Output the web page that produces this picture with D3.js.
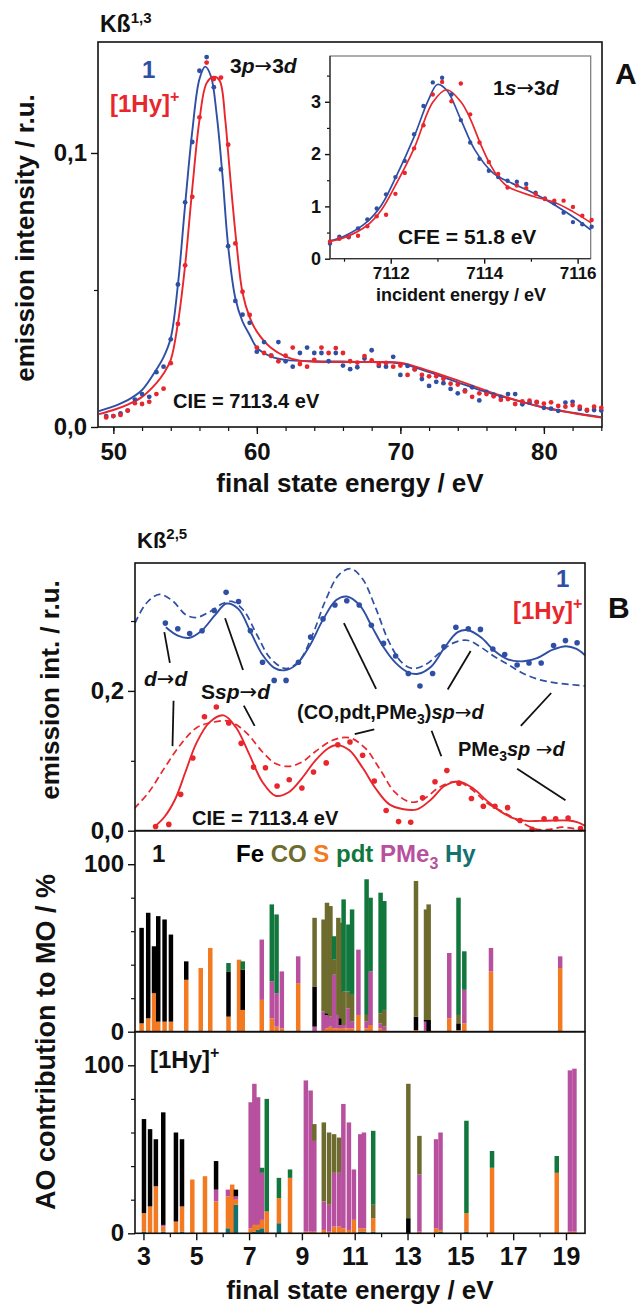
<!DOCTYPE html>
<html>
<head>
<meta charset="utf-8">
<script src="https://cdn.jsdelivr.net/npm/d3@7"></script>
<style>
  body { margin: 0; background: #fff; }
  svg text { font-family: "Liberation Sans", Arial, Helvetica, sans-serif; font-weight: bold; fill: #111; }
</style>
</head>
<body>
<svg id="fig" width="638" height="1304"></svg>
<script>
// ===================== Data =====================
// Panel A: Kbeta1,3 HERFD spectra (final state energy / eV vs. intensity)
const aEnergy = [49.5,50,50.5,51,51.5,52,52.5,53,53.5,54,54.5,55,55.5,56,56.5,57,57.5,58,58.5,59,59.5,60,60.5,61,61.5,62,62.5,63,63.5,64,64.5,65,65.5,66,66.5,67,67.5,68,68.5,69,69.5,70,70.5,71,71.5,72,72.5,73,73.5,74,74.5,75,75.5,76,76.5,77,77.5,78,78.5,79,79.5,80,80.5,81,81.5,82,82.5,83,83.5,84];
const aDots1 = [0.004,0.004,0.005,0.006,0.010,0.012,0.011,0.020,0.022,0.032,0.052,0.082,0.104,0.130,0.135,0.124,0.094,0.066,0.046,0.041,0.038,0.0275,0.031,0.026,0.031,0.024,0.022,0.027,0.029,0.027,0.027,0.024,0.027,0.0224,0.0211,0.0218,0.025,0.028,0.0223,0.022,0.0256,0.019,0.0223,0.0211,0.0175,0.015,0.0165,0.016,0.0139,0.0123,0.0134,0.0145,0.0097,0.0128,0.0118,0.011,0.012,0.012,0.0083,0.0089,0.0089,0.007,0.0067,0.0059,0.0089,0.0092,0.0066,0.006,0.0062,0.006];
const aDotsHy = [0.0035,0.004,0.0044,0.006,0.0087,0.0084,0.0092,0.012,0.014,0.0233,0.0376,0.059,0.084,0.113,0.133,0.127,0.1275,0.103,0.067,0.0494,0.0409,0.029,0.027,0.026,0.024,0.026,0.029,0.023,0.022,0.0245,0.029,0.027,0.0288,0.027,0.024,0.0235,0.0259,0.0243,0.023,0.0234,0.022,0.0224,0.019,0.021,0.019,0.0185,0.0185,0.0176,0.0158,0.0155,0.013,0.011,0.0123,0.012,0.0112,0.0099,0.0102,0.0084,0.0093,0.0096,0.0092,0.0085,0.009,0.0077,0.0074,0.008,0.0074,0.0062,0.0074,0.007];
const aFit1 = [[49,0.0058],[50,0.0075],[51,0.0098],[52,0.0135],[53,0.021],[53.5,0.0255],[54,0.0325],[54.5,0.052],[55,0.081],[55.5,0.108],[56,0.127],[56.4,0.1315],[56.8,0.128],[57.2,0.114],[57.6,0.092],[58,0.066],[58.5,0.047],[59,0.0385],[59.5,0.0336],[60,0.029],[61,0.0257],[62,0.0245],[64,0.024],[66,0.0239],[68,0.0237],[70,0.0232],[72,0.02],[74,0.0163],[76,0.0127],[78,0.0098],[80,0.0071],[82,0.0052],[84,0.0036]];
const aFitHy = [[49,0.0047],[50,0.0062],[51,0.0082],[52,0.011],[53,0.016],[53.5,0.0195],[54,0.0245],[54.5,0.038],[55,0.059],[55.5,0.087],[56,0.112],[56.5,0.1255],[57,0.1278],[57.4,0.1265],[57.8,0.112],[58,0.1],[58.3,0.082],[58.6,0.066],[59,0.049],[59.5,0.04],[60,0.0348],[61,0.0288],[62,0.0257],[63,0.0242],[64,0.0238],[66,0.0237],[68,0.0237],[70,0.0235],[72,0.0205],[74,0.017],[76,0.0132],[78,0.0099],[80,0.0071],[82,0.0051],[84,0.0034]];

// Inset: 1s->3d pre-edge (incident energy / eV)
const inEnergy = [7110.7,7110.9,7111.1,7111.3,7111.5,7111.7,7111.9,7112.1,7112.3,7112.5,7112.7,7112.9,7113.1,7113.3,7113.5,7113.7,7113.9,7114.1,7114.3,7114.5,7114.7,7114.9,7115.1,7115.3,7115.5,7115.7,7115.9,7116.1,7116.3];
const inDots1 = [0.29,0.42,0.41,0.58,0.75,0.96,1.23,1.56,1.87,2.38,2.92,3.37,3.46,3.14,2.65,2.22,1.91,1.68,1.56,1.49,1.47,1.43,1.26,1.15,1.06,0.88,0.70,0.66,0.61];
const inDotsHy = [0.33,0.38,0.42,0.44,0.62,0.81,0.84,1.24,1.64,2.11,2.55,3.14,3.38,3.01,3.35,2.76,2.22,1.85,1.62,1.36,1.40,1.35,1.24,1.14,1.11,1.11,0.99,0.82,0.74];
const inFit1 = [[7110.7,0.34],[7111,0.43],[7111.5,0.71],[7111.8,1.02],[7112.1,1.54],[7112.5,2.33],[7112.8,3.02],[7113,3.33],[7113.2,3.22],[7113.5,2.66],[7113.8,2.08],[7114.2,1.63],[7114.6,1.44],[7115,1.28],[7115.5,1.03],[7116,0.74],[7116.28,0.55]];
const inFitHy = [[7110.7,0.33],[7111,0.40],[7111.5,0.64],[7111.8,0.93],[7112.1,1.40],[7112.5,2.11],[7112.9,2.99],[7113.2,3.23],[7113.5,3.0],[7113.7,2.68],[7113.9,2.24],[7114.1,1.85],[7114.3,1.56],[7114.5,1.38],[7115.06,1.19],[7115.5,1.08],[7115.9,0.90],[7116.28,0.69]];

// Panel B: Kbeta2,5 valence-to-core spectra
const bEnergy1 = [3.83,4.30,4.75,5.22,5.68,6.13,6.60,7.05,7.51,7.95,8.40,8.87,9.33,9.80,10.25,10.70,11.17,11.63,12.09,12.55,13.03,13.47,13.95,14.38,14.83,15.30,15.76,16.23,16.68,17.15,17.60,18.06,18.53,18.98,19.42];
const bDots1 = [0.297,0.289,0.282,0.286,0.315,0.341,0.328,0.286,0.241,0.215,0.215,0.241,0.277,0.303,0.323,0.329,0.323,0.294,0.268,0.250,0.225,0.207,0.225,0.263,0.291,0.289,0.288,0.260,0.252,0.237,0.240,0.240,0.265,0.272,0.269];
const bEnergyHy = [3.46,3.96,4.41,4.87,5.31,5.76,6.23,6.70,7.17,7.62,8.06,8.52,9.00,9.44,9.92,10.36,10.82,11.30,11.74,12.19,12.66,13.12,13.57,14.04,14.49,14.95,15.42,15.87,16.31,16.79,17.26,17.72,18.17,18.61,19.08,19.55];
const bDotsHy = [0.006,0.009,0.052,0.104,0.163,0.177,0.154,0.125,0.091,0.090,0.064,0.073,0.061,0.084,0.097,0.123,0.127,0.108,0.071,0.029,0.013,0.012,0.047,0.070,0.086,0.068,0.046,0.035,0.035,0.033,0.0145,0.002,0.017,0.017,0.018,0.003];
const bFit1 = [[3.85,0.291],[4.3,0.279],[4.75,0.276],[5.2,0.286],[5.7,0.308],[6.15,0.325],[6.6,0.317],[7.05,0.285],[7.5,0.252],[7.95,0.233],[8.35,0.2295],[8.8,0.238],[9.3,0.265],[9.8,0.302],[10.3,0.33],[10.7,0.335],[11.2,0.322],[11.65,0.292],[12.1,0.262],[12.55,0.24],[13,0.227],[13.4,0.2245],[13.9,0.235],[14.4,0.262],[14.9,0.284],[15.3,0.2868],[15.8,0.276],[16.3,0.257],[16.8,0.245],[17.4,0.2424],[17.9,0.247],[18.5,0.259],[19,0.264],[19.4,0.26],[19.72,0.251]];
const bCalc1 = [[2.68,0.297],[3.1,0.325],[3.6,0.338],[4.1,0.329],[4.6,0.309],[5,0.305],[5.5,0.313],[6,0.325],[6.35,0.328],[6.8,0.315],[7.3,0.28],[7.8,0.247],[8.4,0.232],[8.9,0.243],[9.4,0.28],[9.9,0.33],[10.4,0.366],[10.85,0.375],[11.3,0.36],[11.8,0.318],[12.3,0.27],[12.8,0.24],[13.2,0.232],[13.7,0.238],[14.2,0.254],[14.7,0.268],[15.25,0.2725],[15.8,0.262],[16.3,0.249],[16.8,0.238],[17.4,0.2245],[18,0.216],[18.6,0.2115],[19.2,0.209],[19.72,0.207]];
const bFitHy = [[3.4,0.005],[3.8,0.02],[4.2,0.045],[4.6,0.085],[5,0.125],[5.5,0.155],[6.03,0.165],[6.5,0.148],[7,0.11],[7.5,0.07],[8,0.05],[8.5,0.055],[9,0.075],[9.5,0.1],[10,0.118],[10.36,0.1225],[10.8,0.115],[11.3,0.09],[11.8,0.06],[12.3,0.038],[12.8,0.031],[13.36,0.0305],[13.9,0.045],[14.4,0.064],[14.95,0.0702],[15.5,0.06],[16,0.043],[16.5,0.028],[17,0.018],[17.5,0.014],[18,0.014],[18.5,0.0145],[19.1,0.0145],[19.45,0.012],[19.72,0.007]];
const bCalcHy = [[2.65,0.0315],[3.2,0.055],[3.8,0.09],[4.4,0.123],[5,0.147],[5.6,0.155],[6.26,0.1564],[6.9,0.14],[7.5,0.113],[8,0.096],[8.5,0.092],[9,0.098],[9.5,0.113],[10.2,0.13],[10.8,0.133],[11.4,0.118],[12,0.085],[12.5,0.056],[13.1,0.041],[13.6,0.045],[14.2,0.062],[14.85,0.0702],[15.4,0.06],[16,0.04],[16.75,0.024],[17.4,0.01],[17.9,0.002],[18.4,0.002],[18.85,0.005],[19.3,0.003],[19.72,0]];

// Assignment leader lines, [energy, intensity] end points
const leaders = [
  [[3.79,0.284],[4.00,0.240]], [[4.14,0.186],[4.10,0.121]],
  [[6.09,0.304],[6.77,0.230]], [[6.80,0.179],[7.21,0.150]],
  [[10.59,0.297],[11.81,0.203]], [[11.00,0.138],[11.74,0.145]],
  [[15.39,0.257],[14.52,0.202]], [[13.91,0.143],[14.28,0.1065]],
  [[18.44,0.197],[17.29,0.150]], [[17.15,0.0886],[18.98,0.0435]]
];

// MO compositions: [energy, Hy, S, PMe3, Fe, CO, pdt] in %
const aoKeys = ["Hy","S","PMe3","Fe","CO","pdt"];
const mo1 = [
  [2.93,0,5,0,57,0,0],[3.18,0,8,0,63,0,0],[3.40,0,23,0,28,0,0],[3.56,0,6,0,63,0,0],
  [3.80,0,6,0,61,0,0],[4.04,0,6,0,52,0,0],[4.62,0,31,0,11,0,0],[5.17,0,38,0,0,0,0],
  [5.53,0,50,0,0,0,0],[6.22,0,9,0,27,0,5],[6.62,0,43,0,0,0,0],[6.76,0,13,0,24,0,5],
  [7.48,0,19,36,0,0,0],[7.86,0,8,22,0,0,46],[8.04,0,3,20,0,0,47],[8.24,0,2,34,0,0,0],
  [8.86,0,29,16,0,0,0],[9.48,0,0,3,24,41,0],[9.82,0,1,11,0,55,0],[9.95,0,2,8,1,66,0],
  [10.08,0,3,6,0,66,0],[10.22,0,2,32,0,9,14],[10.38,0,2,8,0,58,0],[10.48,0,2,2,4,57,0],
  [10.58,0,2,2,0,20,55],[10.76,0,2,12,0,10,40],[10.90,0,2,4,0,16,51],[11.14,0,10,39,0,0,0],
  [11.45,0,2,4,0,4,81],[11.60,0,4,32,0,0,44],[11.98,0,2,3,0,6,72],[12.12,0,1,2,0,10,65],
  [13.32,0,1,0,8,81,0],[13.70,0,1,5,1,66,0],[13.80,0,0,0,7,69,0],[14.58,0,8,39,0,0,0],
  [14.93,0,1,0,4,5,70],[15.15,0,5,20,0,0,23],[16.16,0,36,14,0,0,0],[18.78,0,38,7,0,0,0]
];
const mo2 = [
  [3.02,1,11,0,56,0,0],[3.25,0,16,0,46,0,0],[3.47,0,28,0,28,0,0],[3.75,1,3,1,67,0,0],
  [4.23,0,7,0,53,0,0],[4.46,1,15,0,40,0,0],[4.85,0,32,0,0,0,0],[5.33,0,34,0,0,0,0],
  [5.75,0,19,7,17,0,0],[6.20,3,19,4,0,0,0],[6.36,0,29,0,0,0,0],[6.50,17,3,2,4,0,0],
  [7.06,0,3,75,0,0,0],[7.20,1,4,84,0,0,0],[7.34,2,3,76,0,0,0],[7.49,3,5,28,0,0,3],
  [7.67,0,13,0,0,0,67],[8.13,6,15,0,0,0,12],[8.55,0,33,0,0,0,5],[9.15,0,1,90,0,0,0],
  [9.33,0,1,84,0,0,0],[9.47,0,1,54,0,10,0],[9.83,0,2,17,0,47,0],[10.03,0,1,16,0,43,0],
  [10.22,0,4,32,0,23,0],[10.41,0,4,32,0,21,0],[10.57,0,3,74,0,0,0],[10.78,0,2,64,0,0,0],
  [10.97,0,8,30,0,0,0],[11.21,1,2,56,0,0,0],[11.35,1,2,57,0,0,0],[11.70,1,8,0,0,8,44],
  [13.03,0,0,0,9,80,0],[13.45,0,1,34,0,23,0],[14.08,0,3,53,0,0,0],[14.25,1,1,58,0,0,0],
  [15.23,1,11,0,0,0,55],[16.20,0,39,0,0,0,10],[18.65,0,36,0,0,0,10],[19.15,0,1,96,0,0,0],
  [19.32,0,1,97,0,0,0]
];

const aTicksX = [50,60,70,80];
const aTicksY = [0, 0.1];
const inTicksX = [7112,7114,7116];
const inTicksY = [0,1,2,3];
const bTicksX = [3,5,7,9,11,13,15,17,19];
const bTicksY = [0, 0.2];
const moTicksY = [0, 100];

// ===================== Styles =====================
const FONT = '"Liberation Sans", Arial, Helvetica, sans-serif';
const ARROW_FONT = '"DejaVu Sans", "Liberation Sans", sans-serif';
const BLUE = "#2f4fa5", RED = "#e8262c";
const aoColor = { Fe: "#000000", CO: "#6d6b2e", S: "#f47a22", pdt: "#12773d", PMe3: "#b7509e", Hy: "#127270" };

const svg = d3.select("#fig");
const commaFmt = f => d => d3.format(f)(d).replace(".", ",");

function styleAxis(g, size) {
  g.attr("font-family", FONT).attr("font-size", size);
  g.select(".domain").remove();
  g.selectAll(".tick line").attr("stroke", "#111").attr("stroke-width", 1.4);
  g.selectAll(".tick text").attr("font-weight", "bold").attr("fill", "#111");
}
function minor(g) {
  g.select(".domain").remove();
  g.selectAll(".tick line").attr("stroke", "#111").attr("stroke-width", 1.2);
  g.selectAll(".tick text").remove();
}
const smooth = (x, y) => d3.line().x(d => x(d[0])).y(d => y(d[1])).curve(d3.curveCatmullRom.alpha(0.5));

// text helper: parts are {t, i(talic), c(olour), dy, fs, a(rrow font)}
function label(x, y, parts, size, anchor) {
  const t = svg.append("text").attr("x", x).attr("y", y).attr("font-size", size).attr("text-anchor", anchor || "start");
  parts.forEach(p => {
    const s = t.append("tspan").text(p.t);
    if (p.i) s.attr("font-style", "italic");
    if (p.c) s.attr("fill", p.c);
    if (p.dy) s.attr("dy", p.dy);
    if (p.fs) s.attr("font-size", p.fs);
    if (p.a) s.attr("font-family", ARROW_FONT).attr("font-weight", "normal");
  });
  return t;
}
const ARR = {t: "\u2192", a: 1};

// ===================== Panel A =====================
const xA = d3.scaleLinear().domain([48.93, 84.05]).range([98, 602]);
const yA = d3.scaleLinear().domain([0, 0.1405]).range([427, 42]);

svg.append("g").attr("transform", "translate(0,427)")
  .call(d3.axisBottom(xA).tickValues(d3.range(50, 85, 2)).tickSize(4)).call(minor);
svg.append("g").attr("transform", "translate(0,427)")
  .call(d3.axisBottom(xA).tickValues(aTicksX).tickSize(7).tickPadding(9).tickFormat(d3.format("d")))
  .call(g => styleAxis(g, 24));
svg.append("g").attr("transform", "translate(98,0)")
  .call(d3.axisLeft(yA).tickValues([0.05]).tickSize(4)).call(minor);
svg.append("g").attr("transform", "translate(98,0)")
  .call(d3.axisLeft(yA).tickValues(aTicksY).tickSize(7).tickPadding(4).tickFormat(commaFmt(".1f")))
  .call(g => styleAxis(g, 24));
svg.append("rect").attr("x", 98).attr("y", 42).attr("width", 504).attr("height", 385)
  .attr("fill", "none").attr("stroke", "#111").attr("stroke-width", 1.6);

const gA = svg.append("g");
gA.append("path").datum(aFit1).attr("d", smooth(xA, yA)).attr("fill", "none").attr("stroke", BLUE).attr("stroke-width", 1.9);
gA.append("path").datum(aFitHy).attr("d", smooth(xA, yA)).attr("fill", "none").attr("stroke", RED).attr("stroke-width", 1.9);
gA.selectAll(".dB").data(aEnergy).join("circle").attr("cx", d => xA(d)).attr("cy", (d, i) => yA(aDots1[i])).attr("r", 2.4).attr("fill", BLUE);
gA.selectAll(".dR").data(aEnergy).join("circle").attr("cx", d => xA(d)).attr("cy", (d, i) => yA(aDotsHy[i])).attr("r", 2.4).attr("fill", RED);

// Inset
const xI = d3.scaleLinear().domain([7110.70, 7116.28]).range([330, 590.7]);
const yI = d3.scaleLinear().domain([0, 3.875]).range([258.7, 56]);
svg.append("rect").attr("x", 330).attr("y", 56).attr("width", 260.7).attr("height", 202.7)
  .attr("fill", "#fff").attr("stroke", "#777").attr("stroke-width", 1.2);
svg.append("g").attr("transform", "translate(0,258.7)")
  .call(d3.axisBottom(xI).tickValues([7111,7113,7115]).tickSize(3)).call(minor);
svg.append("g").attr("transform", "translate(0,258.7)")
  .call(d3.axisBottom(xI).tickValues(inTicksX).tickSize(5).tickPadding(3).tickFormat(d3.format("d")))
  .call(g => styleAxis(g, 17));
svg.append("g").attr("transform", "translate(330,0)")
  .call(d3.axisLeft(yI).tickValues([0.5,1.5,2.5,3.5]).tickSize(3)).call(minor);
svg.append("g").attr("transform", "translate(330,0)")
  .call(d3.axisLeft(yI).tickValues(inTicksY).tickSize(5).tickPadding(4).tickFormat(d3.format("d")))
  .call(g => styleAxis(g, 18));
svg.append("line").attr("x1", 330).attr("x2", 330).attr("y1", 56).attr("y2", 258.7).attr("stroke", "#333").attr("stroke-width", 1.3);
svg.append("line").attr("x1", 330).attr("x2", 590.7).attr("y1", 258.7).attr("y2", 258.7).attr("stroke", "#333").attr("stroke-width", 1.3);

const gI = svg.append("g");
gI.append("path").datum(inFit1).attr("d", smooth(xI, yI)).attr("fill", "none").attr("stroke", BLUE).attr("stroke-width", 1.7);
gI.append("path").datum(inFitHy).attr("d", smooth(xI, yI)).attr("fill", "none").attr("stroke", RED).attr("stroke-width", 1.7);
gI.selectAll(".iB").data(inEnergy).join("circle").attr("cx", d => xI(d)).attr("cy", (d, i) => yI(inDots1[i])).attr("r", 2.2).attr("fill", BLUE);
gI.selectAll(".iR").data(inEnergy).join("circle").attr("cx", d => xI(d)).attr("cy", (d, i) => yI(inDotsHy[i])).attr("r", 2.2).attr("fill", RED);

// Panel A labels
label(100, 32, [{t: "Kß"}, {t: "1,3", dy: -9, fs: 15}], 23);
label(142, 78, [{t: "1", c: BLUE}], 24);
label(110, 112, [{t: "[1Hy]", c: RED}, {t: "+", c: RED, dy: -10, fs: 16}], 24);
label(230, 73, [{t: "3"}, {t: "p", i: 1}, ARR, {t: "3"}, {t: "d", i: 1}], 21);
label(493, 95, [{t: "1"}, {t: "s", i: 1}, ARR, {t: "3"}, {t: "d", i: 1}], 21);
label(398, 244, [{t: "CFE = 51.8 eV"}], 21);
label(173, 408, [{t: "CIE = 7113.4 eV"}], 20);
label(461, 301, [{t: "incident energy / eV"}], 18, "middle");
label(615, 84, [{t: "A"}], 30);
label(350, 492, [{t: "final state energy / eV"}], 26, "middle");
svg.append("text").attr("transform", "translate(34,238) rotate(-90)").attr("text-anchor", "middle")
  .attr("font-size", 26).text("emission intensity / r.u.");

// ===================== Panel B =====================
const xB = d3.scaleLinear().domain([2.68, 19.72]).range([135, 585]);
const yS = d3.scaleLinear().domain([0, 0.383]).range([830.7, 563]);
const yM1 = d3.scaleLinear().domain([0, 120]).range([1031.7, 830.7]);
const yM2 = d3.scaleLinear().domain([0, 120]).range([1233.3, 1031.7]);

svg.append("defs").append("clipPath").attr("id", "clipB")
  .append("rect").attr("x", 135).attr("y", 563).attr("width", 450).attr("height", 267.7);

// spectrum axes
svg.append("g").attr("transform", "translate(135,0)")
  .call(d3.axisLeft(yS).tickValues([0.1, 0.3]).tickSize(4)).call(minor);
svg.append("g").attr("transform", "translate(135,0)")
  .call(d3.axisLeft(yS).tickValues(bTicksY).tickSize(7).tickPadding(4).tickFormat(commaFmt(".1f")))
  .call(g => styleAxis(g, 24));

// MO composition axes
[yM1, yM2].forEach(y => {
  svg.append("g").attr("transform", "translate(135,0)")
    .call(d3.axisLeft(y).tickValues([20, 40, 60, 80]).tickSize(4)).call(minor);
  svg.append("g").attr("transform", "translate(135,0)")
    .call(d3.axisLeft(y).tickValues(moTicksY).tickSize(7).tickPadding(4).tickFormat(d3.format("d")))
    .call(g => styleAxis(g, 24));
});
svg.append("g").attr("transform", "translate(0,1233.3)")
  .call(d3.axisBottom(xB).tickValues(d3.range(4, 20, 2)).tickSize(4)).call(minor);
svg.append("g").attr("transform", "translate(0,1233.3)")
  .call(d3.axisBottom(xB).tickValues(bTicksX).tickSize(7).tickPadding(7).tickFormat(d3.format("d")))
  .call(g => styleAxis(g, 25));

// stacked MO bars
const BW = 0.17;
function drawBars(rows, y) {
  const table = rows.map(r => ({ E: r[0], Hy: r[1], S: r[2], PMe3: r[3], Fe: r[4], CO: r[5], pdt: r[6] }));
  const series = d3.stack().keys(aoKeys)(table);
  const g = svg.append("g");
  table.forEach((d, i) => {
    const bar = g.append("g");
    series.forEach(s => {
      const [y0, y1] = s[i];
      if (y1 > y0) bar.append("rect")
        .attr("x", xB(d.E - BW / 2)).attr("width", xB(d.E + BW / 2) - xB(d.E - BW / 2))
        .attr("y", y(y1)).attr("height", y(y0) - y(y1)).attr("fill", aoColor[s.key]);
    });
  });
}
drawBars(mo1, yM1);
drawBars(mo2, yM2);

// spectra
const gB = svg.append("g");
const gBl = gB.append("g").attr("clip-path", "url(#clipB)");
gBl.append("path").datum(bCalc1).attr("d", smooth(xB, yS)).attr("fill", "none").attr("stroke", BLUE).attr("stroke-width", 1.7).attr("stroke-dasharray", "7,4");
gBl.append("path").datum(bCalcHy).attr("d", smooth(xB, yS)).attr("fill", "none").attr("stroke", RED).attr("stroke-width", 1.7).attr("stroke-dasharray", "7,4");
gBl.append("path").datum(bFit1).attr("d", smooth(xB, yS)).attr("fill", "none").attr("stroke", BLUE).attr("stroke-width", 1.9);
gBl.append("path").datum(bFitHy).attr("d", smooth(xB, yS)).attr("fill", "none").attr("stroke", RED).attr("stroke-width", 1.9);
gB.selectAll(".sB").data(bEnergy1).join("circle").attr("cx", d => xB(d)).attr("cy", (d, i) => yS(bDots1[i])).attr("r", 2.8).attr("fill", BLUE);
gB.selectAll(".sR").data(bEnergyHy).join("circle").attr("cx", d => xB(d)).attr("cy", (d, i) => yS(bDotsHy[i])).attr("r", 2.8).attr("fill", RED);
gB.selectAll(".lead").data(leaders).join("line")
  .attr("x1", d => xB(d[0][0])).attr("y1", d => yS(d[0][1]))
  .attr("x2", d => xB(d[1][0])).attr("y2", d => yS(d[1][1]))
  .attr("stroke", "#111").attr("stroke-width", 1.8);

// frames
[[563, 830.7], [830.7, 1031.7], [1031.7, 1233.3]].forEach(([t, b]) => {
  svg.append("rect").attr("x", 135).attr("y", t).attr("width", 450).attr("height", b - t)
    .attr("fill", "none").attr("stroke", "#111").attr("stroke-width", 1.6);
});

// Panel B labels
label(137, 548, [{t: "Kß"}, {t: "2,5", dy: -9, fs: 15}], 22);
label(556, 587, [{t: "1", c: BLUE}], 24);
label(513, 619, [{t: "[1Hy]", c: RED}, {t: "+", c: RED, dy: -10, fs: 16}], 24);
label(608, 618, [{t: "B"}], 30);
label(144, 686, [{t: "d", i: 1}, ARR, {t: "d", i: 1}], 21);
label(201, 699, [{t: "S"}, {t: "sp", i: 1}, ARR, {t: "d", i: 1}], 21);
label(297, 719, [{t: "(CO,pdt,PMe"}, {t: "3", dy: 5, fs: 14}, {t: ")", dy: -5}, {t: "sp", i: 1}, ARR, {t: "d", i: 1}], 20);
label(458, 756, [{t: "PMe"}, {t: "3", dy: 5, fs: 14}, {t: "sp", i: 1, dy: -5}, {t: " "}, ARR, {t: "d", i: 1}], 20);
label(192, 825, [{t: "CIE = 7113.4 eV"}], 20);

label(152, 862, [{t: "1"}], 24);
label(236, 862, [
  {t: "Fe", c: aoColor.Fe}, {t: " CO", c: aoColor.CO}, {t: " S", c: aoColor.S},
  {t: " pdt", c: aoColor.pdt}, {t: " PMe", c: aoColor.PMe3}, {t: "3", c: aoColor.PMe3, dy: 7, fs: 16},
  {t: " Hy", c: aoColor.Hy, dy: -7}
], 24);
label(150, 1068, [{t: "[1Hy]"}, {t: "+", dy: -10, fs: 16}], 24);

label(360, 1299, [{t: "final state energy / eV"}], 26, "middle");
svg.append("text").attr("transform", "translate(59,690) rotate(-90)").attr("text-anchor", "middle")
  .attr("font-size", 26).text("emission int. / r.u.");
svg.append("text").attr("transform", "translate(55,1042) rotate(-90)").attr("text-anchor", "middle")
  .attr("font-size", 27).text("AO contribution to MO / %");
</script>
</body>
</html>
